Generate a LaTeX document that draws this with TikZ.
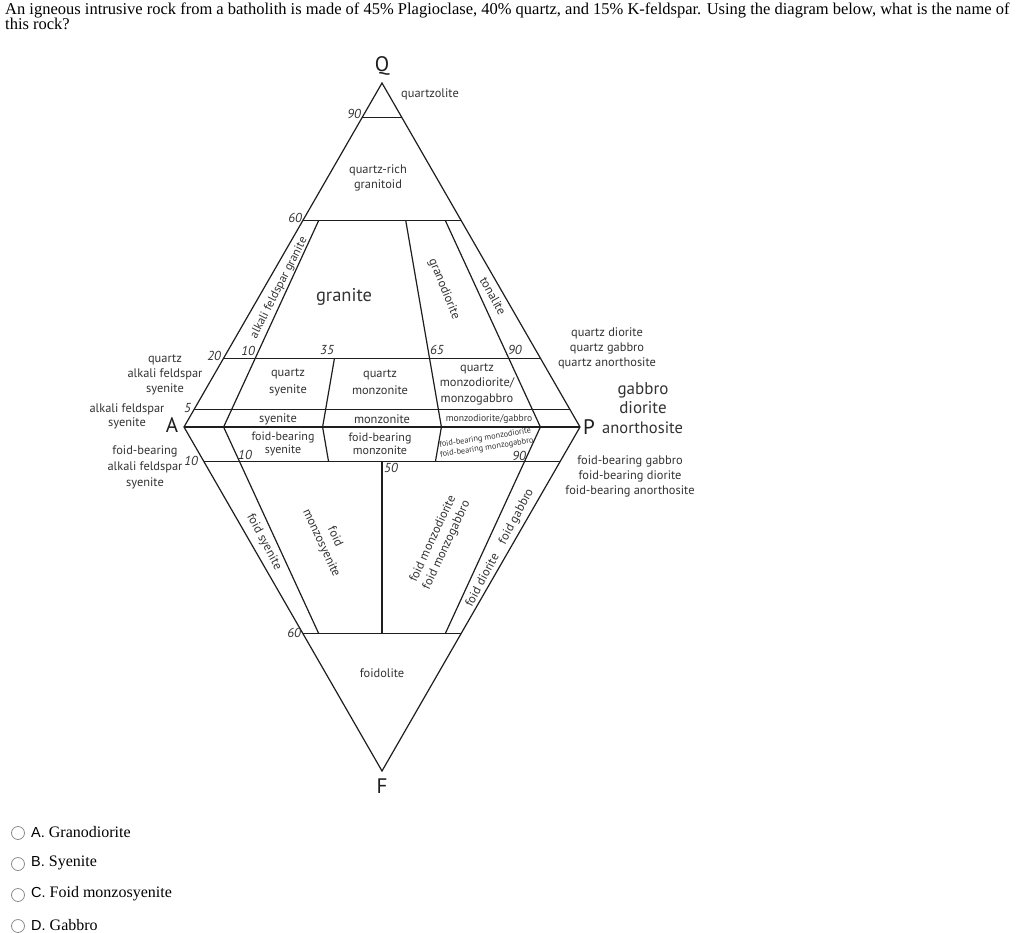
\documentclass[tikz,border=0pt]{standalone}
\usepackage{fontspec}
\setmainfont{Liberation Serif}
\newfontfamily\dfont{PT Sans}
\newfontfamily\afont{Liberation Sans}
\usetikzlibrary{calc}
\definecolor{ink}{HTML}{1E1E1E}
\definecolor{txt}{HTML}{333333}
\begin{document}
\begin{tikzpicture}[x=1pt,y=-1pt,
  ln/.style={draw=ink, line width=1.2pt},
  lab/.style={font=\dfont\fontsize{12.4}{15}\selectfont, text=txt, align=center, inner sep=0pt},
  big/.style={font=\dfont\fontsize{16.8}{19}\selectfont, text=txt, align=center, inner sep=0pt},
  apex/.style={font=\dfont\fontsize{21}{24}\selectfont, text=ink, inner sep=0pt},
  num/.style={font=\dfont\itshape\fontsize{13}{15}\selectfont, text=txt, inner sep=0pt},
  tiny/.style={font=\dfont\fontsize{8.3}{10}\selectfont, text=txt, align=center, inner sep=0pt},
  qtext/.style={font=\fontsize{16.5}{17}\selectfont, text=black, inner sep=0pt, anchor=base west},
  atext/.style={font=\fontsize{16}{17}\selectfont, text=black, inner sep=0pt, anchor=west},
  radio/.style={draw=black!45, line width=0.8pt}
]
\useasboundingbox[fill=white] (0,0) rectangle (1024,933);

% question
\node[qtext] (q1) at (5,15) {An igneous intrusive rock from a batholith is made of 45\% Plagioclase, 40\% quartz, and 15\% K-feldspar. Using the diagram below, what is the name of};
\node[qtext] (q2) at (5,30) {this rock?};

% apices
\coordinate (A) at (184,427);
\coordinate (P) at (580,427);
\coordinate (Q) at (382,83);
\coordinate (F) at (382,771);

% horizontal levels
\foreach \n/\q in {q90/0.9,q60/0.6,q20/0.2,q05/0.05}{
  \coordinate (L\n) at ($(A)!\q!(Q)$);
  \coordinate (R\n) at ($(P)!\q!(Q)$);
}
\foreach \n/\q in {f10/0.1,f60/0.6}{
  \coordinate (L\n) at ($(A)!\q!(F)$);
  \coordinate (R\n) at ($(P)!\q!(F)$);
}
% base points on A-P
\foreach \n/\r in {10/0.1,35/0.35,50/0.5,65/0.65,90/0.9}{
  \coordinate (b\n) at ($(A)!\r!(P)$);
}
\coordinate (u10) at ($(b10)!0.6!(Q)$);
\coordinate (u35) at ($(b35)!0.2!(Q)$);
\coordinate (u65) at ($(b65)!0.6!(Q)$);
\coordinate (u90) at ($(b90)!0.6!(Q)$);
\coordinate (d10) at ($(b10)!0.6!(F)$);
\coordinate (d35) at ($(b35)!0.1!(F)$);
\coordinate (d65) at ($(b65)!0.1!(F)$);
\coordinate (d90) at ($(b90)!0.6!(F)$);
\coordinate (m50) at ($(b50)!0.1!(F)$);
\coordinate (n50) at ($(b50)!0.6!(F)$);

% outline
\draw[ln, line join=miter] (A) -- (Q) -- (P) -- (F) -- cycle;
\draw[ln] (A) -- (P);
\foreach \n in {q90,q60,q20,q05,f10,f60}{ \draw[ln] (L\n) -- (R\n); }
\draw[ln] (b10) -- (u10);
\draw[ln] (b35) -- (u35);
\draw[ln] (b65) -- (u65);
\draw[ln] (b90) -- (u90);
\draw[ln] (b10) -- (d10);
\draw[ln] (b35) -- (d35);
\draw[ln] (b65) -- (d65);
\draw[ln] (b90) -- (d90);
\draw[ln] (m50) -- (n50);

% apex letters
\node[apex] (tQ) at (382,66) {Q};
\node[apex] (tA) at (172,425) {A};
\node[apex] (tP) at (589,427) {P};
\node[apex] (tF) at (382,786) {F};

% tick numbers
\node[num, anchor=east] (n90) at (361,114) {90};
\node[num, anchor=east] (n60) at (302,218) {60};
\node[num, anchor=east] (n20) at (221,356) {20};
\node[num, anchor=east] (n10a) at (255,351) {10};
\node[num] (n35) at (327,350) {35};
\node[num, anchor=west] (n65) at (430,350) {65};
\node[num, anchor=west] (n90b) at (508,350) {90};
\node[num, anchor=east] (n5) at (191,408) {5};
\node[num, anchor=east] (n10b) at (198,461) {10};
\node[num] (n10c) at (245,455) {10};
\node[num] (n50) at (391,468) {50};
\node[num, anchor=east] (n90c) at (526,456) {90};
\node[num, anchor=east] (n60b) at (301,633) {60};

% field labels
\node[lab, anchor=west] (quartzolite) at (401,94) {quartzolite};
\node[lab] (qrg) at (378,178) {quartz-rich\\granitoid};
\node[lab, font=\dfont\fontsize{12}{14}\selectfont, rotate=63] (afg) at (279,288) {alkali feldspar granite};
\node[big, font=\dfont\fontsize{18.5}{20}\selectfont] (granite) at (344,297) {granite};
\node[lab, rotate=-68] (grd) at (444,289) {granodiorite};
\node[lab, rotate=-61] (ton) at (493,296) {tonalite};
\node[lab, font=\dfont\fontsize{12.4}{17}\selectfont] (qsy) at (288,382) {quartz\\syenite};
\node[lab, font=\dfont\fontsize{12.4}{17}\selectfont] (qmz) at (380,382) {quartz\\monzonite};
\node[lab, font=\dfont\fontsize{12.4}{15.5}\selectfont] (qmd) at (477,384) {quartz\\monzodiorite/\\monzogabbro};
\node[lab] (qafs) at (165,375) {quartz\\alkali feldspar\\syenite};
\node[lab, font=\dfont\fontsize{12.4}{14}\selectfont] (afs) at (127,416) {alkali feldspar\\syenite};
\node[lab, font=\dfont\fontsize{12.4}{16}\selectfont] (fafs) at (145,467) {foid-bearing\\alkali feldspar\\syenite};
\node[lab] (sye) at (278,419) {syenite};
\node[lab, font=\dfont\fontsize{12}{13.5}\selectfont] (fsy) at (283,444) {foid-bearing\\syenite};
\node[lab] (mzn) at (382,419) {monzonite};
\node[lab, font=\dfont\fontsize{12}{13.5}\selectfont] (fmzn) at (380,444) {foid-bearing\\monzonite};
\node[tiny, font=\dfont\fontsize{9.6}{11}\selectfont] (mdg) at (489,419) {monzodiorite/gabbro};
\node[tiny, rotate=9] (fmdg) at (486,443) {foid-bearing monzodiorite\\foid-bearing monzogabbro};
\node[lab] (qdg) at (607,348) {quartz diorite\\quartz gabbro\\quartz anorthosite};
\node[big, font=\dfont\fontsize{17}{19}\selectfont] (gd) at (643,398) {gabbro\\diorite};
\node[big, anchor=west, font=\dfont\fontsize{16.5}{19}\selectfont] (ano) at (602,428) {anorthosite};
\node[lab] (fgd) at (630,476) {foid-bearing gabbro\\foid-bearing diorite\\foid-bearing anorthosite};
\node[lab, rotate=-62] (fsye) at (264,542) {foid syenite};
\node[lab, rotate=-65] (fmzs) at (328,540) {foid\\monzosyenite};
\node[lab, rotate=65] (fmd) at (440,542) {foid monzodiorite\\foid monzogabbro};
\node[lab, rotate=62] (fdg) at (500,548) {foid diorite\quad foid gabbro};
\node[lab] (foidolite) at (382,673) {foidolite};

% answers
\foreach \i/\y/\l/\t in {a/833/A./Granodiorite, b/864/B./Syenite, c/895/C./Foid monzosyenite, d/926/D./Gabbro}{
  \draw[radio] (18,\y) circle (6.5);
  \node[atext] (ans\i) at (31,\y-1) {{\afont\fontsize{14.5}{16}\selectfont\l} \t};
}
\end{tikzpicture}
\end{document}
